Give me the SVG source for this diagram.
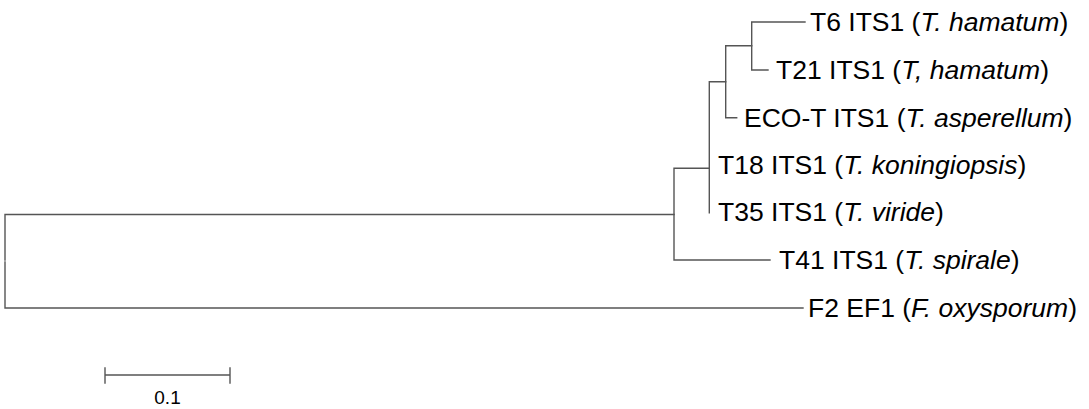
<svg xmlns="http://www.w3.org/2000/svg" width="1089" height="409" viewBox="0 0 1089 409">
<style>
.br{stroke:#555;stroke-width:1.4;fill:none;stroke-linecap:square}
.lb{font-family:"Liberation Sans",Arial,sans-serif;font-size:26.5px;fill:#000}
.sc{font-family:"Liberation Sans",Arial,sans-serif;font-size:19px;fill:#000}
</style>
<rect width="1089" height="409" fill="#fff"/>
<g id="connectors">
<path class="br" d="M5,214.5 V260 M5,262 V308 M5,214.5 H674 M5,308 H803"/>
<path class="br" d="M674,168.3 V260 M674,260 H770 M674,168.3 H709.3"/>
<path class="br" d="M709.3,81.7 V212.7 M709.3,81.7 H725.7"/>
<path class="br" d="M725.7,45.7 V117.7 M725.7,117.7 H736.7 M725.7,45.7 H751.7"/>
<path class="br" d="M751.7,22 V70 M751.7,22 H805 M751.7,70 H768"/>
</g>
<g id="T6"><text class="lb" x="810" y="31">T6 ITS1 (<tspan font-style="italic">T. hamatum</tspan>)</text></g>
<g id="T21"><text class="lb" x="776" y="79">T21 ITS1 (<tspan font-style="italic">T, hamatum</tspan>)</text></g>
<g id="ECO-T"><text class="lb" x="744" y="127">ECO-T ITS1 (<tspan font-style="italic">T. asperellum</tspan>)</text></g>
<g id="T18"><text class="lb" x="718" y="174">T18 ITS1 (<tspan font-style="italic">T. koningiopsis</tspan>)</text></g>
<g id="T35"><text class="lb" x="718" y="221">T35 ITS1 (<tspan font-style="italic">T. viride</tspan>)</text></g>
<g id="T41"><text class="lb" x="779" y="269">T41 ITS1 (<tspan font-style="italic">T. spirale</tspan>)</text></g>
<g id="F2"><text class="lb" x="808" y="317">F2 EF1 (<tspan font-style="italic">F. oxysporum</tspan>)</text></g>
<g id="scale">
<path class="br" d="M105,375 H230 M105,368 V383 M230,368 V383"/>
<text class="sc" x="167.5" y="404" text-anchor="middle">0.1</text>
</g>
</svg>
